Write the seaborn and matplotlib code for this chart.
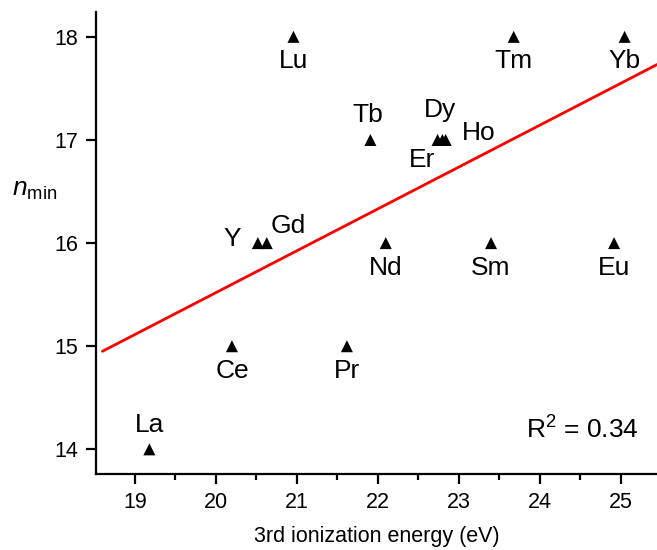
import numpy as np
import pandas as pd
import matplotlib
matplotlib.use("Agg")
import matplotlib.pyplot as plt
from matplotlib.ticker import MultipleLocator
import seaborn as sns

# Third ionization energies (eV) and minimum n for each element
elements = ["La", "Ce", "Pr", "Nd", "Sm", "Eu", "Gd", "Tb", "Dy", "Ho",
            "Er", "Tm", "Yb", "Lu", "Y"]
ion_energy = [19.18, 20.20, 21.62, 22.10, 23.40, 24.92, 20.63, 21.91, 22.80,
              22.84, 22.74, 23.68, 25.05, 20.96, 20.52]
n_min = [14, 15, 15, 16, 16, 16, 16, 17, 17, 17, 17, 18, 18, 18, 16]
r2_text = "R$^2$ = 0.34"

df = pd.DataFrame({"element": elements, "energy": ion_energy, "n": n_min})

sns.set_style("ticks")
plt.rcParams["font.family"] = ["Liberation Sans", "DejaVu Sans"]
plt.rcParams["mathtext.fontset"] = "custom"
plt.rcParams["mathtext.rm"] = "Liberation Sans"
plt.rcParams["mathtext.it"] = "Liberation Sans:italic"
plt.rcParams["text.color"] = "black"
plt.rcParams["axes.labelcolor"] = "black"
plt.rcParams["xtick.color"] = "black"
plt.rcParams["ytick.color"] = "black"
plt.rcParams["axes.edgecolor"] = "black"

fig = plt.figure(figsize=(6.57, 5.5), dpi=100)
ax = fig.add_axes([0.146, 0.138, 0.854, 0.84])

# Linear fit line
slope, intercept = np.polyfit(df["energy"], df["n"], 1)
fit_x = np.array([18.6, 25.45])
fit_df = pd.DataFrame({"energy": fit_x, "n": slope * fit_x + intercept})
sns.lineplot(data=fit_df, x="energy", y="n", ax=ax, color="#ff0000", lw=2.0)

sns.scatterplot(data=df, x="energy", y="n", ax=ax, marker="^", color="black",
                s=75, edgecolor="none", zorder=3)

# Label placement (offsets in points, alignment)
offsets = {
    "La": (0, 9, "center", "bottom"),
    "Ce": (0, -9, "center", "top"),
    "Pr": (0, -9, "center", "top"),
    "Nd": (0, -9, "center", "top"),
    "Sm": (0, -9, "center", "top"),
    "Eu": (0, -9, "center", "top"),
    "Tm": (0, -9, "center", "top"),
    "Yb": (0, -9, "center", "top"),
    "Lu": (0, -9, "center", "top"),
    "Y": (-12, 3, "right", "center"),
    "Gd": (3, 4, "left", "bottom"),
    "Tb": (-2, 9, "center", "bottom"),
    "Dy": (-2, 13, "center", "bottom"),
    "Er": (-11, -6, "center", "top"),
    "Ho": (12, 5, "left", "center"),
}
for el, x, y in zip(elements, ion_energy, n_min):
    dx, dy, ha, va = offsets[el]
    ax.annotate(el, (x, y), xytext=(dx, dy), textcoords="offset points",
                ha=ha, va=va, fontsize=19, color="black")

ax.text(25.22, 14.19, r2_text, ha="right", va="center", fontsize=19)

ax.set_xlim(18.52, 25.45)
ax.set_ylim(13.76, 18.24)
ax.xaxis.set_major_locator(MultipleLocator(1))
ax.xaxis.set_minor_locator(MultipleLocator(0.5))
ax.yaxis.set_major_locator(MultipleLocator(1))

ax.set_xlabel("3rd ionization energy (eV)", fontsize=15.5, labelpad=9)
ax.set_ylabel(r"$\mathit{n}_{\mathrm{min}}$", fontsize=19, rotation=0,
              labelpad=0, va="center", ha="center")
ax.yaxis.set_label_coords(-0.11, 0.615)

sns.despine(ax=ax)
for side in ("left", "bottom"):
    ax.spines[side].set_linewidth(1.6)
ax.tick_params(axis="both", which="major", direction="out", length=7,
               width=1.6, labelsize=15.5, pad=6)
ax.tick_params(axis="x", which="minor", direction="out", length=4, width=1.6)

fig.savefig("out.png", dpi=100)
